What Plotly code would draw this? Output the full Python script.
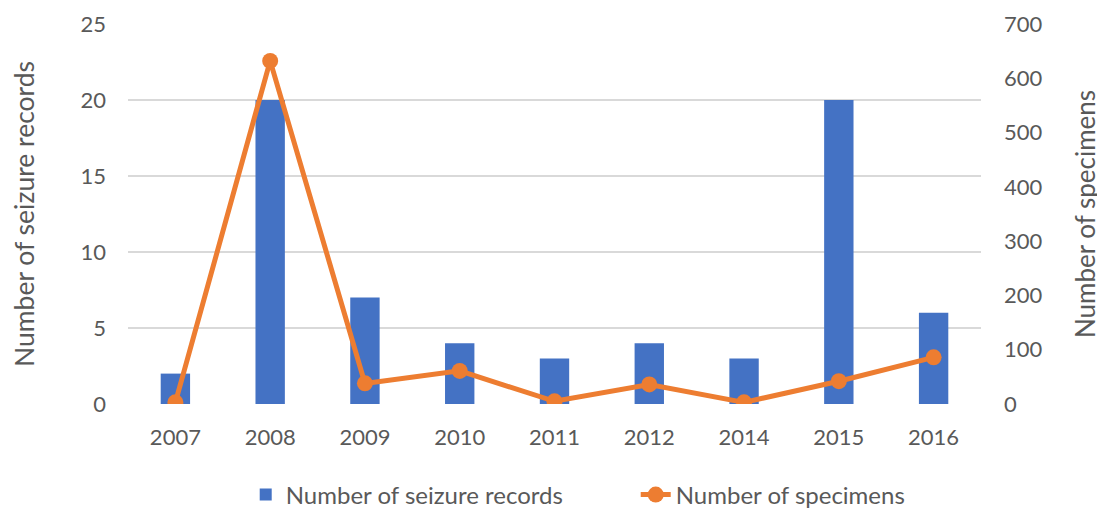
import plotly.graph_objects as go

years = ["2007", "2008", "2009", "2010", "2011", "2012", "2014", "2015", "2016"]
seizure_records = [2, 20, 7, 4, 3, 4, 3, 20, 6]
specimens = [3, 632, 38, 61, 5, 36, 3, 42, 86]

BLUE = "#4472C4"
ORANGE = "#ED7D31"
GREY = "#595959"
FONT = "Lato, Open Sans, sans-serif"

fig = go.Figure()
fig.add_trace(go.Bar(
    x=years, y=seizure_records, name="Number of seizure records",
    marker=dict(color=BLUE, line=dict(width=0)), width=0.31, yaxis="y",
))
fig.add_trace(go.Scatter(
    x=years, y=specimens, name="Number of specimens", mode="lines+markers",
    line=dict(color=ORANGE, width=5), marker=dict(color=ORANGE, size=16),
    yaxis="y2",
))

fig.update_layout(
    width=1097, height=500,
    margin=dict(l=120, r=124, t=16, b=104, autoexpand=False),
    paper_bgcolor="white", plot_bgcolor="white",
    font=dict(family=FONT, size=22, color=GREY),
    showlegend=True,
    legend=dict(orientation="h", x=0.138, xanchor="left", y=-0.2395, yanchor="middle",
                font=dict(size=24, color=GREY), entrywidth=345, entrywidthmode="pixels",
                traceorder="normal"),
    xaxis=dict(type="category", range=[-0.5, 8.5], showgrid=False, showline=False, ticks="",
               tickfont=dict(size=22, color=GREY), ticklabelstandoff=18),
    yaxis=dict(range=[0, 25], dtick=5, showgrid=True, gridcolor="#D9D9D9", gridwidth=2,
               zeroline=False, showline=False, ticks="", automargin=False,
               tickfont=dict(size=22, color=GREY), ticklabelstandoff=21,
               title=dict(text="Number of seizure records", font=dict(size=26.5, color=GREY), standoff=38)),
    yaxis2=dict(range=[0, 700], dtick=100, overlaying="y", side="right", showgrid=False,
                zeroline=False, showline=False, ticks="", automargin=False,
                tickfont=dict(size=22, color=GREY), ticklabelstandoff=22,
                title=dict(text="Number of specimens", font=dict(size=26, color=GREY), standoff=35)),
)

fig.write_html("out.html")
